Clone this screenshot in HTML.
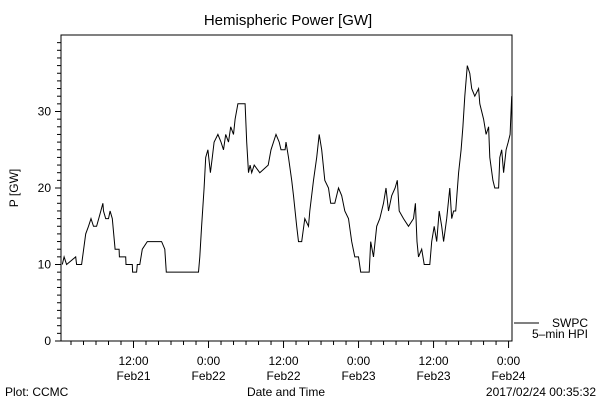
<!DOCTYPE html>
<html><head><meta charset="utf-8"><style>
html,body{margin:0;padding:0;background:#fff;width:600px;height:400px;overflow:hidden}
svg text{font-family:"Liberation Sans",sans-serif;fill:#000}
</style></head><body>
<svg id="chart" width="600" height="400" viewBox="0 0 600 400" xmlns="http://www.w3.org/2000/svg">
<rect width="600" height="400" fill="#fff"/>
<text x="288" y="25" font-size="15" text-anchor="middle">Hemispheric Power [GW]</text>
<text transform="translate(18,188) rotate(-90)" font-size="12" text-anchor="middle">P [GW]</text>
<text x="286" y="396" font-size="12" text-anchor="middle">Date and Time</text>
<text x="5" y="396" font-size="12">Plot: CCMC</text>
<text x="596" y="396" font-size="12" text-anchor="end">2017/02/24 00:35:32</text>
<g id="axes"></g>
<rect x="61" y="35" width="451" height="306" fill="none" stroke="#000" stroke-width="1"/>
<g>
<line x1="514" y1="323" x2="539" y2="323" stroke="#000"/>
<text x="588" y="327" font-size="12" text-anchor="end">SWPC</text>
<text x="588" y="338" font-size="12" text-anchor="end">5–min HPI</text>
</g>
</svg>
<script>
const hours=[0.6,0.9,1.3,2.75,2.9,3.7,4.35,4.8,5.2,5.6,6.1,6.6,7.1,7.2,7.55,8.0,8.25,8.6,9.05,9.7,9.75,10.75,10.8,11.8,11.85,12.5,12.6,13.0,13.4,14.2,16.5,17.0,17.25,22.4,22.6,22.9,23.3,23.55,23.9,24.3,24.6,24.9,25.5,26.0,26.4,26.75,27.2,27.55,28.0,28.25,28.7,29.85,30.1,30.4,30.65,30.9,31.3,32.2,33.55,34.0,34.8,35.3,35.6,36.25,36.4,36.8,37.3,37.6,38.1,38.4,38.9,39.4,40.0,40.2,40.8,41.3,41.7,42.1,42.6,43.2,43.55,44.2,44.8,45.3,45.8,46.4,46.9,47.4,48.0,48.35,49.7,49.95,50.4,50.9,51.4,52.0,52.4,52.8,53.3,53.85,54.2,54.5,55.2,56.0,56.8,57.1,57.35,57.6,58.1,58.5,59.4,59.7,60.1,60.5,60.9,61.3,61.6,62.1,62.6,62.9,63.2,63.55,64.0,64.4,64.7,65.0,65.4,65.8,66.1,66.6,67.2,67.4,68.0,68.4,68.8,69.0,69.5,69.8,70.4,70.6,70.9,71.2,71.6,71.95,72.25,72.5];
const power=[10,11,10,11,10,10,14,15,16,15,15,16.5,18,17,16,16,17,16,12,12,11,11,10,10,9,9,10,10,12,13,13,12,9,9,11,15,20,24,25,22,24,26,27,26,25,27,26,28,27,29,31,31,26,22,23,22,23,22,23,25,27,26,25,25,26,24,21,19,15,13,13,16,15,17,21,24,27,25,21,20,18,18,20,19,17,16,13,11,11,9,9,13,11,15,16,18,20,17,19,20,21,17,16,15,16,18,13,11,12,10,10,13,15,13,17,15,13,16,20,16,17,17,22,25,28,32,36,35,33,32,33,31,29,27,28,24,21,20,20,24,25,22,25,26,27,32];
const yTickLabels=["0","10","20","30"];
const xTickTimes=["12:00","0:00","12:00","0:00","12:00","0:00"];
const xTickDates=["Feb21","Feb22","Feb22","Feb23","Feb23","Feb24"];
const xTickHours=[12,24,36,48,60,72];
const NS="http://www.w3.org/2000/svg";
const X0=61,X1=512,Y0=341,Y1=35,H0=0.4,H1=72.55,V0=0,V1=40;
function xs(h){return X0+(h-H0)/(H1-H0)*(X1-X0);}
function ys(v){return Y0-(v-V0)/(V1-V0)*(Y0-Y1);}
const svg=document.getElementById('chart');
const ax=document.getElementById('axes');
function mk(t,a){const e=document.createElementNS(NS,t);for(const k in a)e.setAttribute(k,a[k]);return e;}
for(let v=0;v<=39;v++){
  const len=(v%10===0)?6:4;
  const t=mk('line',{x1:X0-len,x2:X0,y1:ys(v),y2:ys(v),stroke:'#000'});
  
  
  ax.appendChild(t);
}
yTickLabels.forEach(function(s){
  const t=mk('text',{x:X0-10,y:ys(+s)+4,'font-size':12,'text-anchor':'end'});
  t.textContent=s;
  
  
  ax.appendChild(t);
});
for(let h=2;h<=72;h+=2){
  const len=(h%12===0)?7:4;
  const t=mk('line',{x1:xs(h),x2:xs(h),y1:Y0,y2:Y0+len,stroke:'#000'});
  
  
  ax.appendChild(t);
}
xTickHours.forEach(function(h,i){
  const a=mk('text',{x:xs(h),y:365,'font-size':12,'text-anchor':'middle'});
  a.textContent=xTickTimes[i];
  
  
  ax.appendChild(a);
  const b=mk('text',{x:xs(h),y:380,'font-size':12,'text-anchor':'middle'});
  b.textContent=xTickDates[i];
  
  
  ax.appendChild(b);
});
const pts=hours.map(function(h,i){return xs(h).toFixed(1)+','+ys(power[i]).toFixed(1);}).join(' ');
const line=mk('polyline',{points:pts,fill:'none',stroke:'#000','stroke-width':1});


svg.appendChild(line);
</script>
</body></html>
